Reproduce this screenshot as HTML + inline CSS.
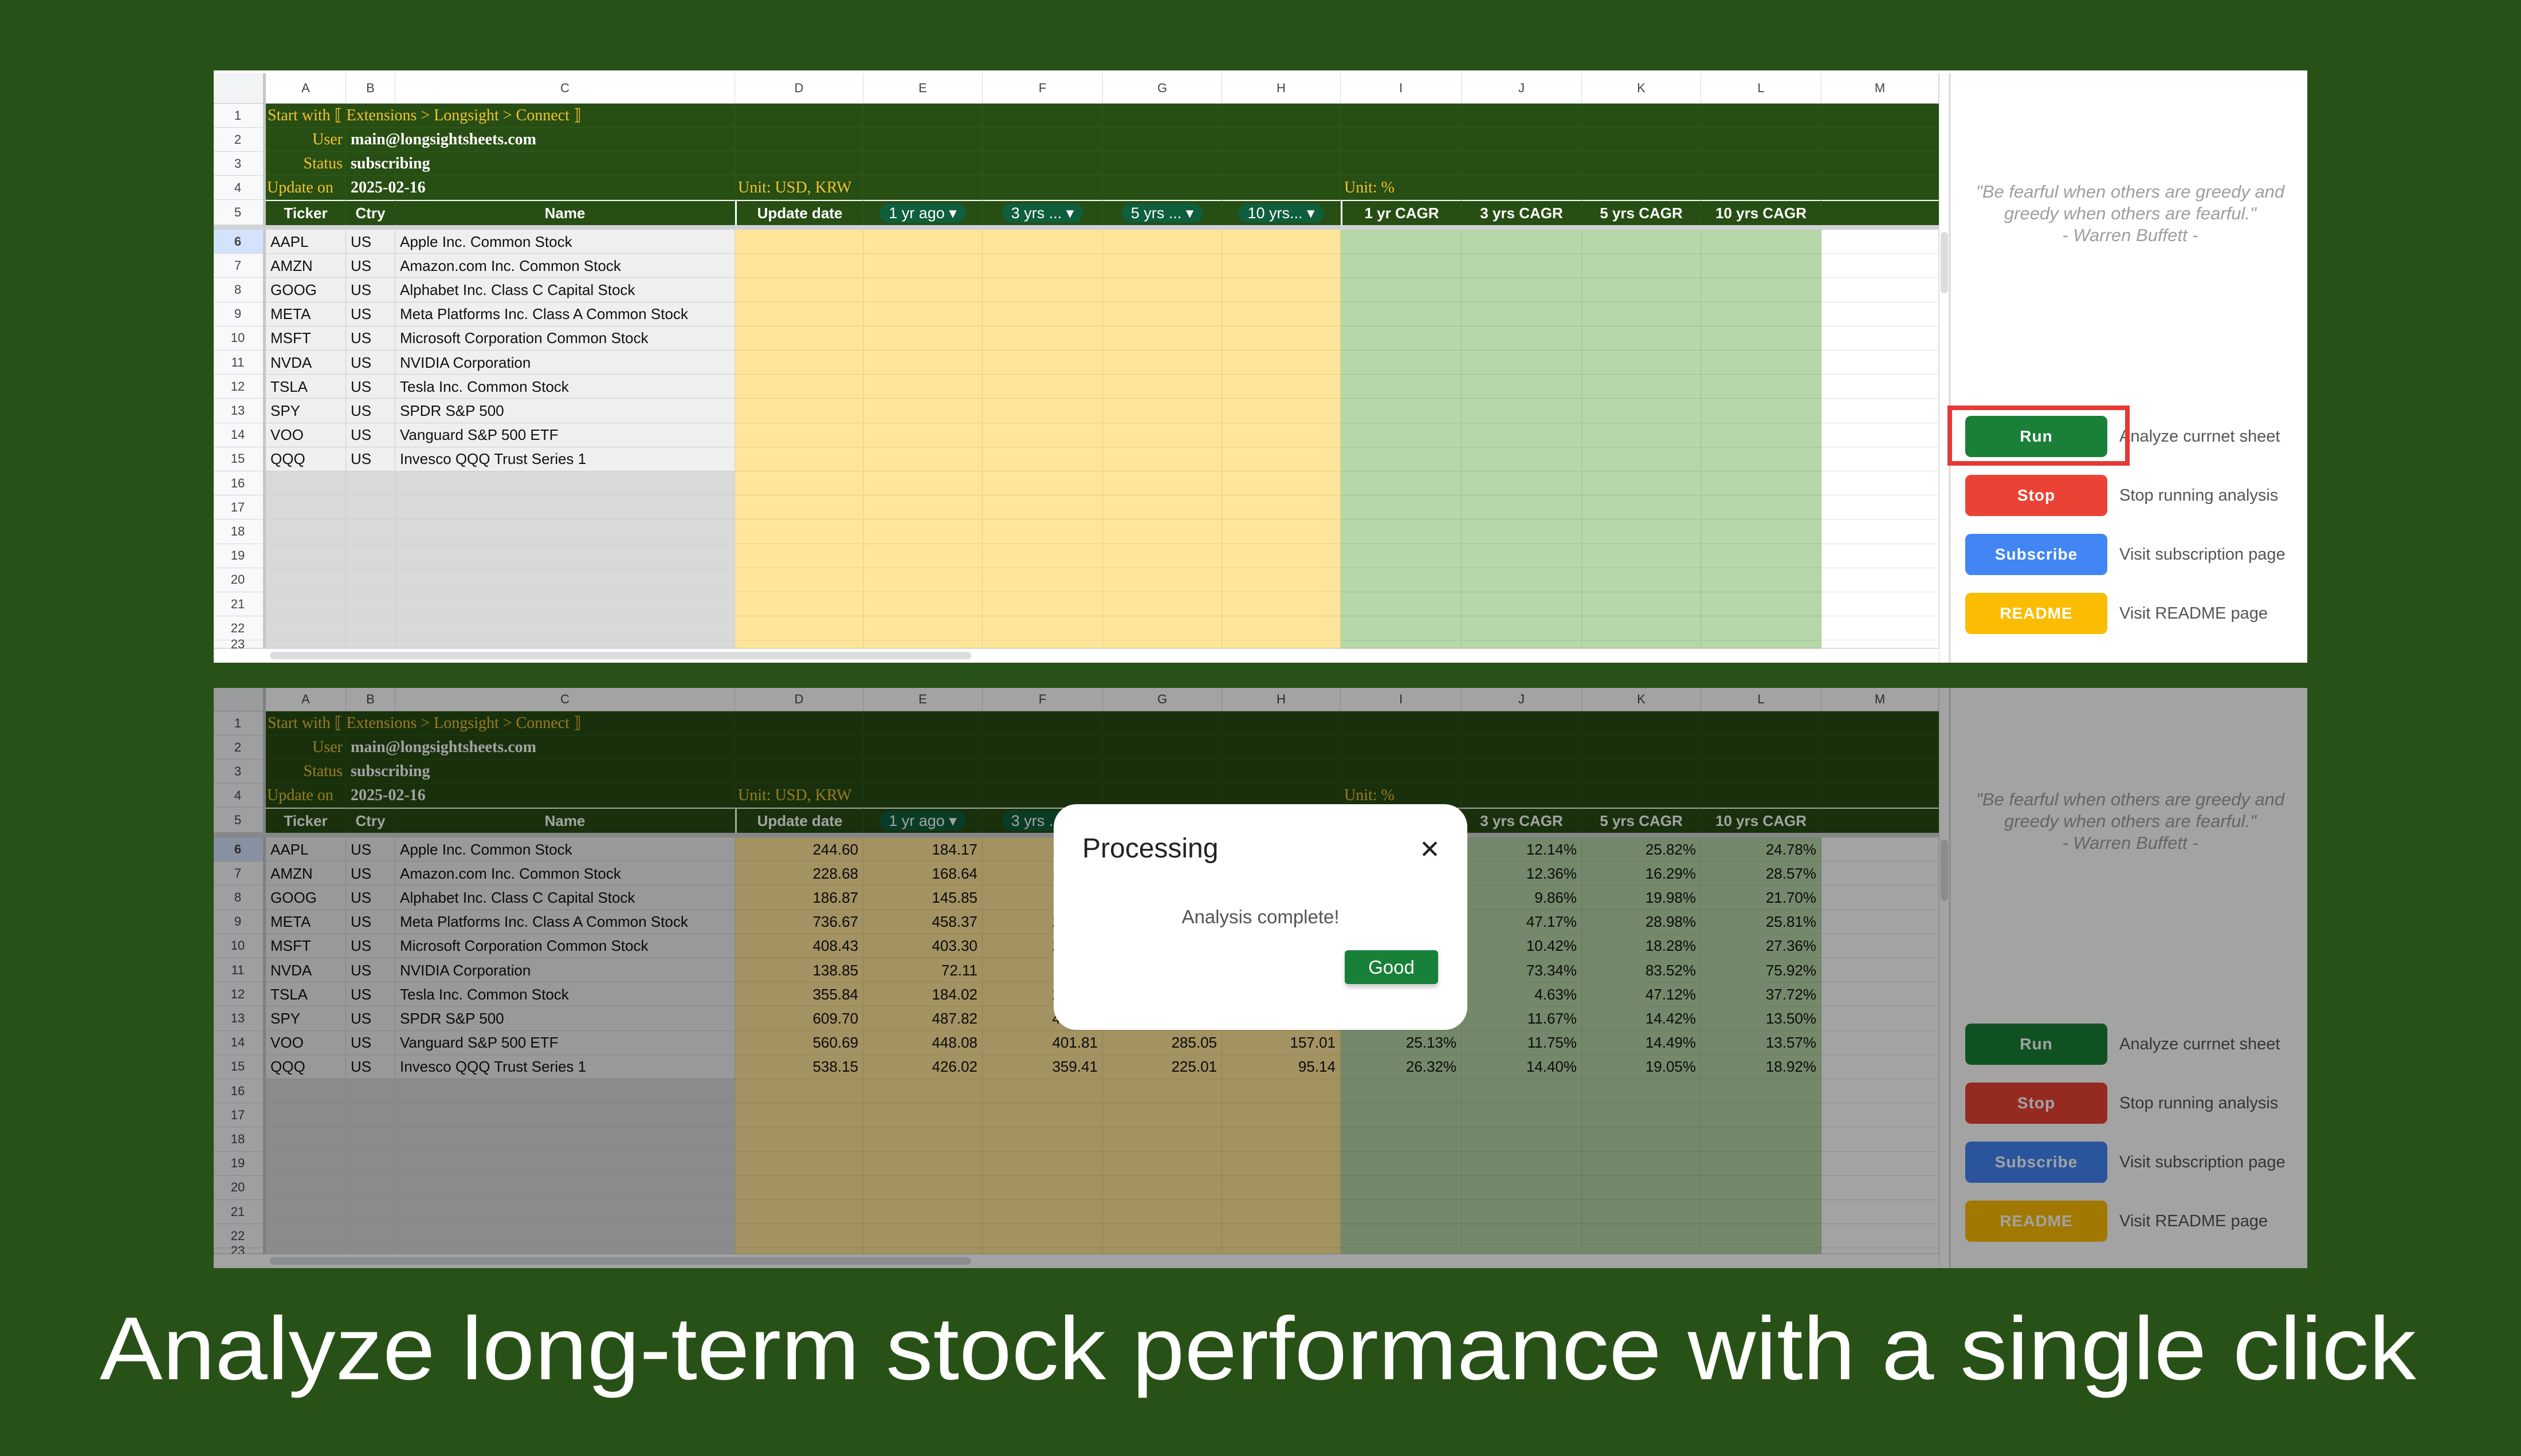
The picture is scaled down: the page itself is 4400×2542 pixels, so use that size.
<!DOCTYPE html>
<html><head><meta charset="utf-8">
<style>
html,body{margin:0;padding:0}
body{width:4400px;height:2542px;background:#285117;position:relative;overflow:hidden;font-family:"Liberation Sans",sans-serif}
.abs{position:absolute;box-sizing:border-box}
.sheet{position:absolute;background:#fff;overflow:hidden}
.c{position:absolute;box-sizing:border-box;white-space:nowrap;overflow:visible;font-size:26px;line-height:1;display:flex;align-items:center}
.btn{position:absolute;box-sizing:border-box;border-radius:10px;color:#fff;font-weight:bold;font-size:28px;display:flex;align-items:center;justify-content:center;letter-spacing:1px}
.desc{position:absolute;font-size:29px;color:#555;white-space:nowrap}
.quote{position:absolute;font-style:italic;font-size:31px;color:#9e9e9e;text-align:center;line-height:38px;white-space:nowrap}
</style></head>
<body>
<div id="root"></div>
<svg class="abs" style="left:0;top:2250px;" width="4400" height="250">
<text x="174" y="158" font-family="Liberation Sans, sans-serif" font-size="156" fill="#ffffff" textLength="4043" lengthAdjust="spacingAndGlyphs">Analyze long-term stock performance with a single click</text>
</svg>
<script>
const tickers=['AAPL','AMZN','GOOG','META','MSFT','NVDA','TSLA','SPY','VOO','QQQ'];
const countries=['US','US','US','US','US','US','US','US','US','US'];
const names=['Apple Inc. Common Stock','Amazon.com Inc. Common Stock','Alphabet Inc. Class C Capital Stock','Meta Platforms Inc. Class A Common Stock','Microsoft Corporation Common Stock','NVIDIA Corporation','Tesla Inc. Common Stock','SPDR S&P 500','Vanguard S&P 500 ETF','Invesco QQQ Trust Series 1'];
const priceNow=['244.60','228.68','186.87','736.67','408.43','138.85','355.84','609.70','560.69','538.15'];
const price1y=['184.17','168.64','145.85','458.37','403.30','72.11','184.02','487.82','448.08','426.02'];
const price3y=['172.55','102.16','94.35','226.48','296.86','22.94','207.32','457.36','401.81','359.41'];
const price5y=['80.32','105.21','76.43','273.07','183.03','6.32','52.00','338.20','285.05','225.01'];
const price10y=['32.85','18.03','27.02','71.40','41.70','0.56','13.64','209.70','157.01','95.14'];
const cagr1=['32.81%','35.60%','28.13%','60.72%','1.27%','92.55%','93.37%','24.98%','25.13%','26.32%'];
const cagr3=['12.14%','12.36%','9.86%','47.17%','10.42%','73.34%','4.63%','11.67%','11.75%','14.40%'];
const cagr5=['25.82%','16.29%','19.98%','28.98%','18.28%','83.52%','47.12%','14.42%','14.49%','19.05%'];
const cagr10=['24.78%','28.57%','21.70%','25.81%','27.36%','75.92%','37.72%','13.50%','13.57%','18.92%'];
const colLetters=['A','B','C','D','E','F','G','H','I','J','K','L','M'];
const headers=['Ticker','Ctry','Name','Update date','1 yr ago','3 yrs ...','5 yrs ...','10 yrs...','1 yr CAGR','3 yrs CAGR','5 yrs CAGR','10 yrs CAGR',''];

const X=[371,464,604,690,1283,1507,1715,1925,2133,2340,2551,2761,2969,3179,3384];
const root=document.getElementById('root');
function rowTop(r){ if(r<=4) return 181+(r-1)*42; if(r===5) return 349; return 401+(r-6)*42.2; }
function rowH(r){ if(r<=4) return 42; if(r===5) return 44; return 42.2; }
function div(parent,cls,css,text){const d=document.createElement('div');d.className=cls;d.style.cssText=css;if(text!==undefined)d.textContent=text;parent.appendChild(d);return d;}

function buildSheet(dy,filled,sheetBottom,showBox){
  const sh=div(root,'sheet',`left:373px;top:${123+ (dy?1078:0)}px;width:3654px;height:${sheetBottom-(123+(dy?1078:0))}px;`);
  
  
  const oy=-(123+(dy?1078:0)); const ox=-373;
  const colTop=(dy?1201:128)+oy, colBot=181+dy+oy;
  const corner=div(sh,'c',`left:${X[0]+ox}px;top:${colTop}px;width:${X[1]-X[0]}px;height:${colBot-colTop}px;background:#f1f3f4;border-right:5px solid #c4c7c5;border-bottom:1px solid #c4c7c5;`);
  
  
  for(let i=0;i<13;i++){
    const h=div(sh,'c',`left:${X[i+1]+ox}px;top:${colTop}px;width:${X[i+2]-X[i+1]}px;height:${colBot-colTop}px;background:#fff;border-right:1px solid #d6d6d6;border-bottom:1px solid #c4c7c5;justify-content:center;font-size:22px;color:#444;`,colLetters[i]);
    
    
  }
  const lastY=sheetBottom-25;
  for(let r=1;r<=23;r++){
    const t=rowTop(r)+dy+oy, hh=rowH(r);
    if(t>=lastY+oy) break;
    const hcut=Math.min(hh,lastY+oy-t);
    const rh=div(sh,'c',`left:${X[0]+ox}px;top:${t}px;width:${X[1]-X[0]}px;height:${hcut}px;background:${r===6?'#d3e3fd':'#f8f9fa'};border-right:5px solid #c4c7c5;border-bottom:1px solid #d6d6d6;justify-content:center;font-size:22px;color:#444;${r===6?'font-weight:bold;':''}`,String(r));
    
    
    for(let i=0;i<13;i++){
      let bg,bc;
      if(r<=5){bg='#274e13';bc='#2f5a1a';}
      else if(i<=2){bg=r<=15?'#efefef':'#d9d9d9';bc='#cfcfcf';}
      else if(i<=7){bg='#ffe599';bc='#e6cf86';}
      else if(i<=11){bg='#b6d7a8';bc='#9fc291';}
      else {bg='#fff';bc='#e2e2e2';}
      const cell=div(sh,'c',`left:${X[i+1]+ox}px;top:${t}px;width:${X[i+2]-X[i+1]}px;height:${hcut}px;background:${bg};border-right:1px solid ${bc};border-bottom:1px solid ${bc};`);
      
      
      if(r===5){
        cell.style.color='#fff';cell.style.fontWeight='bold';cell.style.justifyContent='center';cell.style.borderTop='2px solid #fff';cell.style.borderBottom='none';
        if(i===3) cell.style.borderLeft='3px solid #fff';
        if(i===8) cell.style.borderLeft='3px solid #fff';
        if(i>=4&&i<=7){
          const chip=div(cell,'c',`position:relative;height:34px;padding:0 16px;border-radius:17px;background:#0f5e3c;color:#fff;font-weight:normal;font-size:27px;`,headers[i]+' \u25BE');
          
          
        } else cell.textContent=headers[i];
      }
      if(r>=6&&r<=15){
        const k=r-6;
        const vals=[tickers[k],countries[k],names[k]];
        if(i<=2){cell.textContent=vals[i];cell.style.paddingLeft='8px';cell.style.color='#111';}
        else if(filled&&i<=11){
          const arrs=[priceNow,price1y,price3y,price5y,price10y,cagr1,cagr3,cagr5,cagr10];
          cell.textContent=arrs[i-3][k];cell.style.justifyContent='flex-end';cell.style.paddingRight='8px';cell.style.color='#111';
        }
      }
    }
  }
  const gold='#f1c232';
  const txt=(x,y,w,s,css,name)=>{const e=div(sh,'c',`left:${x+ox}px;top:${y+dy+oy}px;width:${w}px;height:42px;${css}`,s);return e;};
  const serif='font-family:"Liberation Serif","DejaVu Serif",serif;font-size:28px;';
  txt(467,181,900,'Start with \u27E6 Extensions > Longsight > Connect \u27E7',serif+'color:'+gold,'connect-hint');
  txt(464,223,134,'User',serif+'color:'+gold+';justify-content:flex-end;','user-label');
  txt(612,223,600,'main@longsightsheets.com',serif+'color:#fff;font-weight:bold;','user-email');
  txt(464,265,134,'Status',serif+'color:'+gold+';justify-content:flex-end;','status-label');
  txt(612,265,600,'subscribing',serif+'color:#fff;font-weight:bold;','status-value');
  txt(466,307,140,'Update on',serif+'color:'+gold,'update-label');
  txt(612,307,600,'2025-02-16',serif+'color:#fff;font-weight:bold;','update-date');
  txt(1288,307,400,'Unit: USD, KRW',serif+'color:'+gold,'unit-usd');
  txt(2346,307,300,'Unit: %',serif+'color:'+gold,'unit-percent');
  div(sh,'abs',`left:${X[0]+ox}px;top:${393+dy+oy}px;width:${X[14]-X[0]}px;height:8px;background:#d0d3d6;`);
  const hs=div(sh,'abs',`left:${X[0]+ox}px;top:${lastY+oy}px;width:${X[14]-X[0]+21}px;height:25px;background:#fff;border-top:1px solid #ddd;`);
  
  div(sh,'abs',`left:${471+ox}px;top:${lastY+oy+6}px;width:1224px;height:13px;border-radius:7px;background:#dadce0;`);
  const vs=div(sh,'abs',`left:${3384+ox}px;top:${colTop}px;width:21px;height:${lastY-colTop+oy+25}px;background:#fff;border-left:1px solid #ddd;border-right:4px solid #e0e0e0;`);
  
  div(sh,'abs',`left:${3387+ox}px;top:${405+dy+oy}px;width:13px;height:107px;border-radius:7px;background:#dadce0;`);
  const sb=div(sh,'abs',`left:${3409+ox}px;top:0;width:${4027-3409}px;height:100%;background:#fff;`);
  
  const q=div(sh,'quote',`left:${3409+ox}px;top:${316+dy+oy}px;width:618px;`);
  q.innerHTML='"Be fearful when others are greedy and<br>greedy when others are fearful."<br>- Warren Buffett -';
  
  const btns=[['Run','#1a7f37','Analyze currnet sheet'],['Stop','#ea4335','Stop running analysis'],['Subscribe','#4285f4','Visit subscription page'],['README','#fbbc04','Visit README page']];
  btns.forEach((b,j)=>{
    const y=726+j*103+dy+oy;
    const e=div(sh,'btn',`left:${3430+ox}px;top:${y}px;width:248px;height:72px;background:${b[1]};`,b[0]);
    
    
    const d=div(sh,'desc',`left:${3699+ox}px;top:${y+20}px;`,b[2]);
    
    
  });
  if(showBox){
    const bx=div(sh,'abs',`left:${3399+ox}px;top:${708+oy}px;width:318px;height:105px;border:8px solid #e53935;`);
    
    
  }
  return sh;
}
buildSheet(0,false,1157,true);
const sh2=buildSheet(1061,true,2214,false);
const ov=div(sh2,'abs','left:0;top:0;width:100%;height:100%;background:rgba(0,0,0,0.36);');


const dlg=div(root,'abs','left:1839px;top:1404px;width:722px;height:394px;background:#fff;border-radius:40px;');


const ttl=div(dlg,'abs','left:50px;top:50px;font-size:48px;color:#222;','Processing');


const cls=div(dlg,'abs','left:638px;top:54px;font-size:44px;color:#222;','\u2715');


const msg=div(dlg,'abs','left:0;top:178px;width:722px;text-align:center;font-size:33px;color:#555;','Analysis complete!');


const good=div(dlg,'btn','left:508px;top:255px;width:163px;height:59px;background:#188038;font-weight:normal;font-size:33px;letter-spacing:0;border-radius:6px;box-shadow:0 6px 8px rgba(0,0,0,0.2);','Good');


</script>
</body></html>
